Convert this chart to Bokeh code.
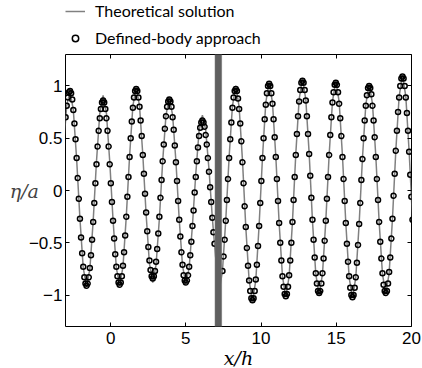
import numpy as np
from bokeh.plotting import figure
from bokeh.layouts import column
from bokeh.models import (Range1d, LinearAxis, FixedTicker, Legend, LegendItem,
                          BoxAnnotation, Label)
from bokeh.embed import file_html
from bokeh.resources import INLINE

# ---------------- data ----------------
X_TICKS = [0, 5, 10, 15, 20]
X_TICK_LABELS = ["0", "5", "10", "15", "20"]
Y_TICKS = [-1, -0.5, 0, 0.5, 1]
Y_TICK_LABELS = ["\u22121", "\u22120.5", "0", "0.5", "1"]

# structure (body) position in x/h
BODY_LEFT = 6.93
BODY_RIGHT = 7.39

# free-surface node spacing (x/h) on each side of the body
LEFT_X0, LEFT_DX = -2.9933, 0.07333
RIGHT_X0, RIGHT_DX = 7.4336, 0.073867

# Defined-body approach, left of the body (eta/a)
body_left = [
    0.70, 0.81, 0.89, 0.94, 0.95,
    0.93, 0.87, 0.77, 0.64, 0.49, 0.31, 0.12, -0.08, -0.27, -0.45, -0.60, -0.73, -0.83, -0.89, -0.91,
    -0.89, -0.83, -0.74, -0.62, -0.47, -0.30, -0.12, 0.07, 0.25, 0.42, 0.57, 0.69, 0.78, 0.84, 0.86,
    0.84, 0.78, 0.69, 0.57, 0.42, 0.25, 0.07, -0.11, -0.29, -0.46, -0.61, -0.73, -0.82, -0.88, -0.90,
    -0.88, -0.82, -0.72, -0.59, -0.43, -0.25, -0.06, 0.13, 0.32, 0.50, 0.66, 0.79, 0.89, 0.95, 0.97,
    0.95, 0.89, 0.80, 0.67, 0.52, 0.34, 0.16, -0.03, -0.21, -0.39, -0.54, -0.67, -0.76, -0.82, -0.84,
    -0.82, -0.77, -0.68, -0.56, -0.41, -0.25, -0.07, 0.10, 0.28, 0.44, 0.59, 0.71, 0.80, 0.85, 0.87,
    0.85, 0.80, 0.70, 0.58, 0.43, 0.27, 0.09, -0.10, -0.28, -0.44, -0.59, -0.71, -0.81, -0.86, -0.88,
    -0.86, -0.81, -0.73, -0.62, -0.49, -0.34, -0.19, -0.02, 0.13, 0.28, 0.41, 0.52, 0.60, 0.65, 0.67,
    0.65, 0.61, 0.53, 0.44, 0.31, 0.18, 0.03, -0.11, -0.26, -0.40, -0.51,
]

# Defined-body approach, right of the body (eta/a)
body_right = [
    -0.77, -0.63, -0.47, -0.29, -0.09, 0.11, 0.31, 0.49, 0.65, 0.79, 0.89, 0.95, 0.97,
    0.95, 0.88, 0.78, 0.64, 0.47, 0.27, 0.07, -0.15, -0.35, -0.55, -0.72, -0.86, -0.96, -1.03, -1.05,
    -1.03, -0.96, -0.85, -0.71, -0.53, -0.34, -0.12, 0.09, 0.31, 0.50, 0.68, 0.82, 0.93, 1.00, 1.02,
    1.00, 0.93, 0.83, 0.68, 0.51, 0.32, 0.11, -0.10, -0.31, -0.50, -0.67, -0.82, -0.92, -0.99, -1.01,
    -0.99, -0.92, -0.81, -0.67, -0.50, -0.30, -0.09, 0.13, 0.34, 0.54, 0.71, 0.85, 0.96, 1.03, 1.05,
    1.03, 0.96, 0.86, 0.71, 0.54, 0.35, 0.14, -0.07, -0.28, -0.47, -0.64, -0.79, -0.89, -0.96, -0.98,
    -0.96, -0.89, -0.79, -0.65, -0.48, -0.29, -0.08, 0.13, 0.34, 0.53, 0.70, 0.84, 0.94, 1.01, 1.03,
    1.01, 0.94, 0.83, 0.69, 0.52, 0.32, 0.11, -0.10, -0.31, -0.51, -0.68, -0.82, -0.93, -1.00, -1.02,
    -1.00, -0.93, -0.83, -0.69, -0.52, -0.32, -0.12, 0.10, 0.30, 0.50, 0.67, 0.81, 0.91, 0.98, 1.00,
    0.98, 0.92, 0.81, 0.67, 0.51, 0.32, 0.11, -0.09, -0.30, -0.49, -0.65, -0.79, -0.90, -0.96, -0.98,
    -0.96, -0.89, -0.78, -0.64, -0.46, -0.27, -0.05, 0.16, 0.38, 0.57, 0.75, 0.89, 1.00, 1.07, 1.09,
    1.07, 1.00, 0.89, 0.74, 0.57, 0.37, 0.15, -0.06, -0.28,
]

# Theoretical solution, sampled every third node
THEO_LEFT_X0, THEO_LEFT_DX = -3.14, 0.22
theory_left = [
    0.40, 0.81, 0.95,
    0.77, 0.30, -0.27, -0.74, -0.92,
    -0.75, -0.29, 0.28, 0.74, 0.91,
    0.74, 0.28, -0.28, -0.74, -0.91,
    -0.73, -0.25, 0.33, 0.81, 0.99,
    0.81, 0.34, -0.23, -0.70, -0.88,
    -0.71, -0.27, 0.28, 0.72, 0.89,
    0.72, 0.28, -0.28, -0.72, -0.89,
    -0.74, -0.33, 0.16, 0.57, 0.72,
    0.58, 0.20, -0.26, -0.64,
]
THEO_RIGHT_X0, THEO_RIGHT_DX = 7.212, 0.2216
theory_right = [
    -0.96, -0.77, -0.28, 0.32, 0.81, 1.00,
    0.80, 0.29, -0.35, -0.86, -1.06,
    -0.86, -0.33, 0.31, 0.84, 1.04,
    0.84, 0.33, -0.31, -0.82, -1.02,
    -0.82, -0.30, 0.35, 0.87, 1.07,
    0.87, 0.36, -0.29, -0.80, -1.00,
    -0.80, -0.29, 0.34, 0.85, 1.05,
    0.85, 0.33, -0.31, -0.83, -1.03,
    -0.83, -0.32, 0.31, 0.82, 1.02,
    0.83, 0.33, -0.30, -0.80, -0.99,
    -0.79, -0.27, 0.38, 0.90, 1.10,
    0.90, 0.37, -0.27, -0.80,
]

x_body_left = LEFT_X0 + LEFT_DX * np.arange(len(body_left))
x_body_right = RIGHT_X0 + RIGHT_DX * np.arange(len(body_right))
x_theory_left = THEO_LEFT_X0 + THEO_LEFT_DX * np.arange(len(theory_left))
x_theory_right = THEO_RIGHT_X0 + THEO_RIGHT_DX * np.arange(len(theory_right))

LINE_STYLE = dict(line_color="#808080", line_width=1.5)
MARK_STYLE = dict(marker="circle", size=5, fill_color=None, line_color="black", line_width=1.5)
LABEL_FONT = dict(text_font="DejaVu Serif", text_font_style="italic",
                  text_font_size="19px", text_color="black")

# ---------------- legend strip (above the axes) ----------------
# the keys re-use the series, with a view range that keeps the marks themselves off-strip
pl = figure(width=422, height=54, output_backend="svg", toolbar_location=None,
            x_range=Range1d(100, 101), y_range=Range1d(100, 101),
            x_axis_location=None, y_axis_location=None,
            min_border=0, outline_line_color=None)
pl.grid.visible = False
key_line = pl.line(x_theory_left, theory_left, **LINE_STYLE)
key_mark = pl.scatter(x_body_left, body_left, **MARK_STYLE)
legend = Legend(items=[LegendItem(label="Theoretical solution", renderers=[key_line]),
                       LegendItem(label="Defined-body approach", renderers=[key_mark])],
                location=(0, 7), orientation="vertical", padding=0, margin=0, spacing=8,
                glyph_width=20, glyph_height=16, label_height=16, label_standoff=10,
                label_text_font="Lato", label_text_font_size="16px",
                label_text_color="black", border_line_color=None, background_fill_alpha=0)
pl.add_layout(legend)

# ---------------- main axes ----------------
p = figure(width=422, height=296, output_backend="svg", toolbar_location=None,
           x_range=Range1d(-3, 20), y_range=Range1d(-1.3, 1.3),
           min_border_left=65, min_border_right=11, min_border_top=0, min_border_bottom=24)
p.grid.visible = False
p.outline_line_color = "black"
p.outline_line_width = 1
p.background_fill_color = "white"
p.border_fill_color = "white"


def style_axis(ax, ticks, labels, show_labels=True):
    ax.ticker = FixedTicker(ticks=ticks)
    ax.major_tick_in = 4
    ax.major_tick_out = 0
    ax.minor_tick_in = 0
    ax.minor_tick_out = 0
    ax.axis_line_color = None
    ax.major_tick_line_color = "black"
    ax.major_tick_line_width = 1
    if show_labels:
        ax.major_label_overrides = {t: l for t, l in zip(ticks, labels)}
        ax.major_label_text_font = "Liberation Sans"
        ax.major_label_text_font_size = "17px"
        ax.major_label_text_color = "black"
    else:
        ax.major_label_overrides = {t: "" for t in ticks}
        ax.major_label_text_font_size = "1px"
        ax.major_label_standoff = 0


xax = p.xaxis[0]
style_axis(xax, X_TICKS, X_TICK_LABELS)
xax.major_label_standoff = 5

yax = p.yaxis[0]
style_axis(yax, Y_TICKS, Y_TICK_LABELS)
yax.major_label_standoff = 3
yax.axis_label = "\u03b7/a"
yax.axis_label_orientation = "horizontal"
yax.axis_label_text_font = "DejaVu Serif"
yax.axis_label_text_font_style = "italic"
yax.axis_label_text_font_size = "19px"
yax.axis_label_standoff = -13

top_ax = LinearAxis()
style_axis(top_ax, X_TICKS, X_TICK_LABELS, show_labels=False)
p.add_layout(top_ax, "above")
right_ax = LinearAxis()
style_axis(right_ax, Y_TICKS, Y_TICK_LABELS, show_labels=False)
p.add_layout(right_ax, "right")

p.line(x_theory_left, theory_left, **LINE_STYLE)
p.line(x_theory_right, theory_right, **LINE_STYLE)
p.scatter(x_body_left, body_left, **MARK_STYLE)
p.scatter(x_body_right, body_right, **MARK_STYLE)

body = BoxAnnotation(left=BODY_LEFT, right=BODY_RIGHT, fill_color="#606060", fill_alpha=1.0,
                     line_color="#a0a0a0", line_width=1)
p.add_layout(body)

# ---------------- x-axis title strip (below the axes) ----------------
px = figure(width=422, height=18, output_backend="svg", toolbar_location=None,
            x_range=Range1d(0, 1), y_range=Range1d(0, 1),
            x_axis_location=None, y_axis_location=None,
            min_border=0, outline_line_color=None)
px.grid.visible = False
px.add_layout(Label(x=173, y=11, x_units="screen", y_units="screen", text="x/h",
                    text_align="center", text_baseline="alphabetic", **LABEL_FONT))

layout = column(pl, p, px, spacing=0)
open("out.html", "w").write(file_html(layout, INLINE))
